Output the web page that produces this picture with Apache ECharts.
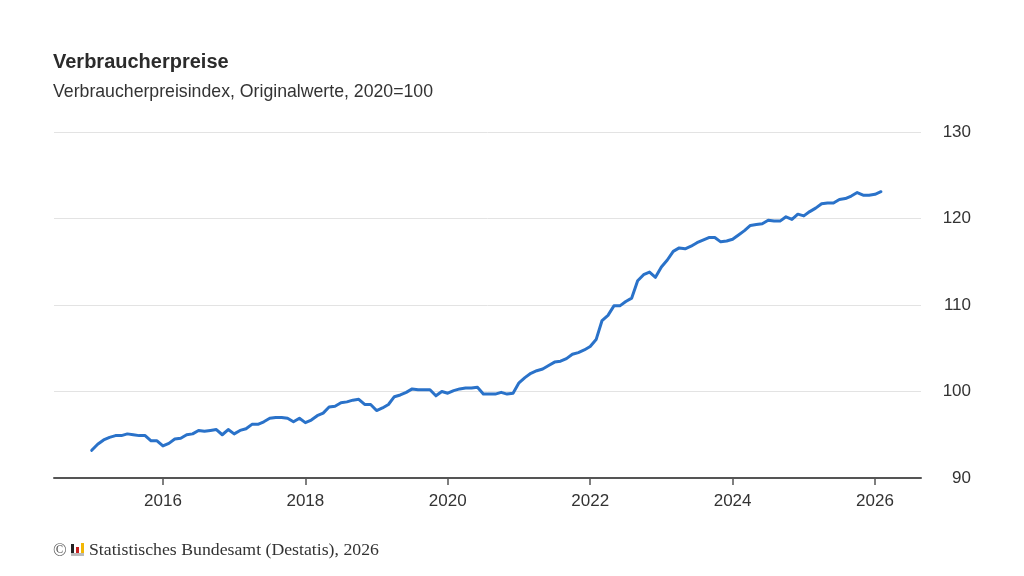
<!DOCTYPE html>
<html><head><meta charset="utf-8">
<style>html,body{margin:0;padding:0;background:#fff}#c{width:1024px;height:576px}</style>
<script src="https://cdn.jsdelivr.net/npm/echarts@6/dist/echarts.min.js"></script></head>
<body><div id="c"></div>
<script>
const titleText = 'Verbraucherpreise';
const subtitleText = 'Verbraucherpreisindex, Originalwerte, 2020=100';
const sourceText = 'Statistisches Bundesamt (Destatis), 2026';
const startYear = 2015;
const xTickYears = [2016, 2018, 2020, 2022, 2024, 2026];
const values2015 = [93.2, 93.9, 94.4, 94.7, 94.9, 94.9, 95.1, 95.0, 94.9, 94.9, 94.3, 94.3];
const values2016 = [93.7, 94.0, 94.5, 94.6, 95.0, 95.1, 95.5, 95.4, 95.5, 95.6, 95.0, 95.6];
const values2017 = [95.1, 95.5, 95.7, 96.2, 96.2, 96.5, 96.9, 97.0, 97.0, 96.9, 96.5, 96.9];
const values2018 = [96.4, 96.7, 97.2, 97.5, 98.2, 98.3, 98.7, 98.8, 99.0, 99.1, 98.5, 98.5];
const values2019 = [97.8, 98.1, 98.5, 99.4, 99.6, 99.9, 100.3, 100.2, 100.2, 100.2, 99.5, 100.0];
const values2020 = [99.8, 100.1, 100.3, 100.4, 100.4, 100.5, 99.7, 99.7, 99.7, 99.9, 99.7, 99.8];
const values2021 = [101.0, 101.6, 102.1, 102.4, 102.6, 103.0, 103.4, 103.5, 103.8, 104.3, 104.5, 104.8];
const values2022 = [105.2, 106.0, 108.2, 108.8, 109.9, 109.9, 110.4, 110.8, 112.8, 113.5, 113.8, 113.2];
const values2023 = [114.4, 115.2, 116.2, 116.6, 116.5, 116.8, 117.2, 117.5, 117.8, 117.8, 117.3, 117.4];
const values2024 = [117.6, 118.1, 118.6, 119.2, 119.3, 119.4, 119.8, 119.7, 119.7, 120.2, 119.9, 120.5];
const values2025 = [120.3, 120.8, 121.2, 121.7, 121.8, 121.8, 122.2, 122.3, 122.6, 123.0, 122.7, 122.7];
const values2026 = [122.8, 123.1];
const yearly = [values2015, values2016, values2017, values2018, values2019, values2020, values2021, values2022, values2023, values2024, values2025, values2026];

const seriesData = [];
yearly.forEach((vals, y) => vals.forEach((v, m) => seriesData.push([startYear + y + m / 12, v])));

const chart = echarts.init(document.getElementById('c'), null, {renderer: 'canvas', width: 1024, height: 576});
const sans = '"Liberation Sans", Arial, sans-serif';
chart.setOption({
  animation: false,
  backgroundColor: '#fff',
  grid: {left: 54, right: 103, top: 132, bottom: 98, containLabel: false},
  xAxis: {
    type: 'value',
    min: 2014.47,
    max: 2026.646,
    axisLine: {show: true, onZero: false, lineStyle: {color: '#555', width: 2}},
    axisTick: {show: true, length: 7, customValues: xTickYears, lineStyle: {color: '#555', width: 1.5}},
    splitLine: {show: false},
    axisLabel: {
      show: true, customValues: xTickYears, color: '#333', fontSize: 17, fontFamily: sans, margin: 15,
      showMinLabel: true, showMaxLabel: true,
      formatter: v => String(Math.round(v))
    }
  },
  yAxis: {
    type: 'value', position: 'right', min: 90, max: 130, interval: 10,
    axisLine: {show: false}, axisTick: {show: false},
    splitLine: {show: true, lineStyle: {color: '#e3e3e3', width: 1}},
    axisLabel: {color: '#333', fontSize: 17, fontFamily: sans, margin: 50, align: 'right', padding: [5, 0, 0, 0]}
  },
  series: [{
    type: 'line', data: seriesData, showSymbol: false, smooth: false, clip: false,
    lineStyle: {color: '#2a72c9', width: 3, join: 'round', cap: 'round'}
  }],
  graphic: [
    {type: 'text', left: 53, top: 52, style: {text: titleText, font: 'bold 20px ' + sans, fill: '#2b2b2b'}},
    {type: 'text', left: 53, top: 83, style: {text: subtitleText, font: '17.7px ' + sans, fill: '#333'}},
    {type: 'text', left: 53, top: 542, style: {text: '©', font: '18px "Liberation Serif", serif', fill: '#555'}},
    {type: 'text', left: 89, top: 541, style: {text: sourceText, font: '17.75px "Liberation Serif", serif', fill: '#333'}},
    {type: 'rect', shape: {x: 71, y: 544, width: 3, height: 9}, style: {fill: '#222'}},
    {type: 'rect', shape: {x: 76, y: 547, width: 3, height: 6}, style: {fill: '#c8201f'}},
    {type: 'rect', shape: {x: 81, y: 543, width: 3, height: 10}, style: {fill: '#f2b705'}},
    {type: 'rect', shape: {x: 71, y: 553, width: 13, height: 3}, style: {fill: '#bbb'}}
  ]
});
</script></body></html>
